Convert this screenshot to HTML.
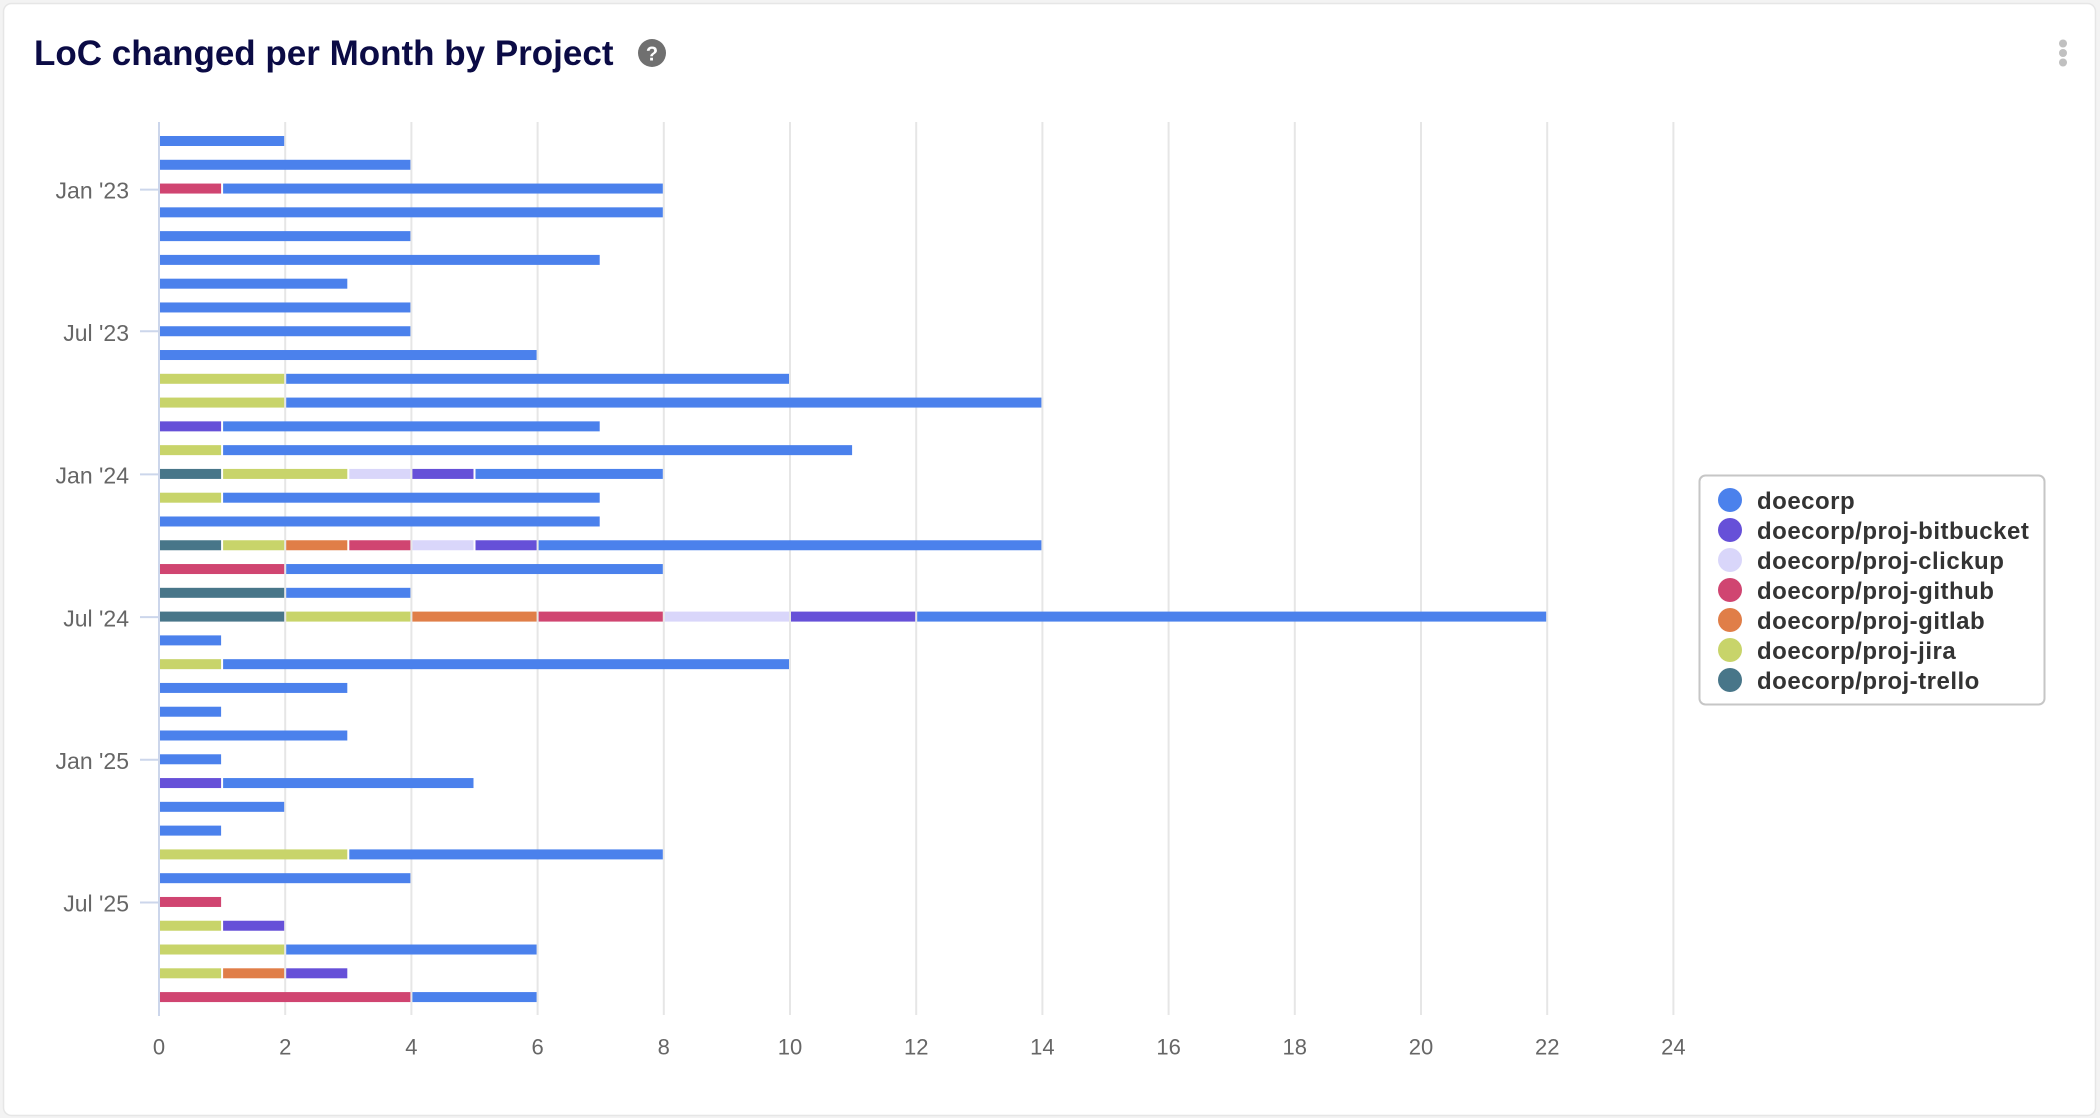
<!DOCTYPE html>
<html>
<head>
<meta charset="utf-8">
<style>
  html, body { margin: 0; padding: 0; background: #f3f3f3; }
  body { width: 2100px; height: 1118px; overflow: hidden; }
  svg { display: block; }
  .D { fill: #4b81ec; }
  .B { fill: #6650d8; }
  .C { fill: #d9d6fa; }
  .G { fill: #d04571; }
  .L { fill: #e07e48; }
  .J { fill: #c8d46a; }
  .T { fill: #487689; }
  .yl { font-family: "Liberation Sans", sans-serif; font-size: 23px; fill: #666666; text-anchor: end; }
  .xl { font-family: "Liberation Sans", sans-serif; font-size: 22px; fill: #666666; text-anchor: middle; }
  .lg { font-family: "Liberation Sans", sans-serif; font-size: 24px; font-weight: bold; fill: #333333; letter-spacing: 0.5px; }
</style>
</head>
<body>
<svg width="2100" height="1118" viewBox="0 0 2100 1118" xmlns="http://www.w3.org/2000/svg">
  <!-- card -->
  <rect x="3.5" y="3.5" width="2092" height="1112" rx="8" ry="8" fill="#ffffff" stroke="#e6e6e6" stroke-width="1.5"/>

  <!-- title -->
  <text x="34" y="65" font-family="Liberation Sans, sans-serif" font-size="35" font-weight="bold" fill="#0b0b45">LoC changed per Month by Project</text>
  <circle cx="652" cy="53" r="14" fill="#707070"/>
  <text x="652" y="60.5" font-family="Liberation Sans, sans-serif" font-size="20" font-weight="bold" fill="#ffffff" text-anchor="middle">?</text>

  <!-- kebab -->
  <circle cx="2063" cy="43.5" r="4" fill="#c0c0c0"/>
  <circle cx="2063" cy="53" r="4" fill="#c0c0c0"/>
  <circle cx="2063" cy="62.5" r="4" fill="#c0c0c0"/>

  <!-- gridlines -->
  <g stroke="#e6e6e6" stroke-width="2">
    <line x1="285.2" y1="122" x2="285.2" y2="1015"/>
    <line x1="411.4" y1="122" x2="411.4" y2="1015"/>
    <line x1="537.6" y1="122" x2="537.6" y2="1015"/>
    <line x1="663.8" y1="122" x2="663.8" y2="1015"/>
    <line x1="790" y1="122" x2="790" y2="1015"/>
    <line x1="916.2" y1="122" x2="916.2" y2="1015"/>
    <line x1="1042.4" y1="122" x2="1042.4" y2="1015"/>
    <line x1="1168.6" y1="122" x2="1168.6" y2="1015"/>
    <line x1="1294.8" y1="122" x2="1294.8" y2="1015"/>
    <line x1="1421" y1="122" x2="1421" y2="1015"/>
    <line x1="1547.2" y1="122" x2="1547.2" y2="1015"/>
    <line x1="1673.4" y1="122" x2="1673.4" y2="1015"/>
  </g>

  <!-- y axis line and ticks -->
  <g stroke="#ccd6eb" stroke-width="2">
    <line x1="159" y1="122" x2="159" y2="1016"/>
    <line x1="140" y1="189.6" x2="159" y2="189.6"/>
    <line x1="140" y1="331.2" x2="159" y2="331.2"/>
    <line x1="140" y1="474.4" x2="159" y2="474.4"/>
    <line x1="140" y1="617.1" x2="159" y2="617.1"/>
    <line x1="140" y1="759.8" x2="159" y2="759.8"/>
    <line x1="140" y1="902.5" x2="159" y2="902.5"/>
  </g>

  <!-- y labels -->
  <text class="yl" x="129" y="198.3">Jan '23</text>
  <text class="yl" x="129" y="340.9">Jul '23</text>
  <text class="yl" x="129" y="483.6">Jan '24</text>
  <text class="yl" x="129" y="626.3">Jul '24</text>
  <text class="yl" x="129" y="769">Jan '25</text>
  <text class="yl" x="129" y="911.7">Jul '25</text>

  <!-- x labels -->
  <text class="xl" x="159" y="1054.5">0</text>
  <text class="xl" x="285.2" y="1054.5">2</text>
  <text class="xl" x="411.4" y="1054.5">4</text>
  <text class="xl" x="537.6" y="1054.5">6</text>
  <text class="xl" x="663.8" y="1054.5">8</text>
  <text class="xl" x="790" y="1054.5">10</text>
  <text class="xl" x="916.2" y="1054.5">12</text>
  <text class="xl" x="1042.4" y="1054.5">14</text>
  <text class="xl" x="1168.6" y="1054.5">16</text>
  <text class="xl" x="1294.8" y="1054.5">18</text>
  <text class="xl" x="1421" y="1054.5">20</text>
  <text class="xl" x="1547.2" y="1054.5">22</text>
  <text class="xl" x="1673.4" y="1054.5">24</text>

  <!-- bars -->
  <g>
    <!-- i0 -->
    <rect class="D" x="160" y="136" width="124.2" height="10"/>
    <!-- i1 -->
    <rect class="D" x="160" y="159.78" width="250.4" height="10"/>
    <!-- i2 -->
    <rect class="G" x="160" y="183.56" width="61.1" height="10"/>
    <rect class="D" x="223.1" y="183.56" width="439.7" height="10"/>
    <!-- i3 -->
    <rect class="D" x="160" y="207.34" width="502.8" height="10"/>
    <!-- i4 -->
    <rect class="D" x="160" y="231.12" width="250.4" height="10"/>
    <!-- i5 -->
    <rect class="D" x="160" y="254.9" width="439.7" height="10"/>
    <!-- i6 -->
    <rect class="D" x="160" y="278.68" width="187.3" height="10"/>
    <!-- i7 -->
    <rect class="D" x="160" y="302.46" width="250.4" height="10"/>
    <!-- i8 -->
    <rect class="D" x="160" y="326.24" width="250.4" height="10"/>
    <!-- i9 -->
    <rect class="D" x="160" y="350.02" width="376.6" height="10"/>
    <!-- i10 -->
    <rect class="J" x="160" y="373.8" width="124.2" height="10"/>
    <rect class="D" x="286.2" y="373.8" width="502.8" height="10"/>
    <!-- i11 -->
    <rect class="J" x="160" y="397.58" width="124.2" height="10"/>
    <rect class="D" x="286.2" y="397.58" width="755.2" height="10"/>
    <!-- i12 -->
    <rect class="B" x="160" y="421.36" width="61.1" height="10"/>
    <rect class="D" x="223.1" y="421.36" width="376.6" height="10"/>
    <!-- i13 -->
    <rect class="J" x="160" y="445.14" width="61.1" height="10"/>
    <rect class="D" x="223.1" y="445.14" width="629" height="10"/>
    <!-- i14 -->
    <rect class="T" x="160" y="468.92" width="61.1" height="10"/>
    <rect class="J" x="223.1" y="468.92" width="124.2" height="10"/>
    <rect class="C" x="349.3" y="468.92" width="61.1" height="10"/>
    <rect class="B" x="412.4" y="468.92" width="61.1" height="10"/>
    <rect class="D" x="475.5" y="468.92" width="187.3" height="10"/>
    <!-- i15 -->
    <rect class="J" x="160" y="492.7" width="61.1" height="10"/>
    <rect class="D" x="223.1" y="492.7" width="376.6" height="10"/>
    <!-- i16 -->
    <rect class="D" x="160" y="516.48" width="439.7" height="10"/>
    <!-- i17 -->
    <rect class="T" x="160" y="540.26" width="61.1" height="10"/>
    <rect class="J" x="223.1" y="540.26" width="61.1" height="10"/>
    <rect class="L" x="286.2" y="540.26" width="61.1" height="10"/>
    <rect class="G" x="349.3" y="540.26" width="61.1" height="10"/>
    <rect class="C" x="412.4" y="540.26" width="61.1" height="10"/>
    <rect class="B" x="475.5" y="540.26" width="61.1" height="10"/>
    <rect class="D" x="538.6" y="540.26" width="502.8" height="10"/>
    <!-- i18 -->
    <rect class="G" x="160" y="564.04" width="124.2" height="10"/>
    <rect class="D" x="286.2" y="564.04" width="376.6" height="10"/>
    <!-- i19 -->
    <rect class="T" x="160" y="587.82" width="124.2" height="10"/>
    <rect class="D" x="286.2" y="587.82" width="124.2" height="10"/>
    <!-- i20 -->
    <rect class="T" x="160" y="611.6" width="124.2" height="10"/>
    <rect class="J" x="286.2" y="611.6" width="124.2" height="10"/>
    <rect class="L" x="412.4" y="611.6" width="124.2" height="10"/>
    <rect class="G" x="538.6" y="611.6" width="124.2" height="10"/>
    <rect class="C" x="664.8" y="611.6" width="124.2" height="10"/>
    <rect class="B" x="791" y="611.6" width="124.2" height="10"/>
    <rect class="D" x="917.2" y="611.6" width="629" height="10"/>
    <!-- i21 -->
    <rect class="D" x="160" y="635.38" width="61.1" height="10"/>
    <!-- i22 -->
    <rect class="J" x="160" y="659.16" width="61.1" height="10"/>
    <rect class="D" x="223.1" y="659.16" width="565.9" height="10"/>
    <!-- i23 -->
    <rect class="D" x="160" y="682.94" width="187.3" height="10"/>
    <!-- i24 -->
    <rect class="D" x="160" y="706.72" width="61.1" height="10"/>
    <!-- i25 -->
    <rect class="D" x="160" y="730.5" width="187.3" height="10"/>
    <!-- i26 -->
    <rect class="D" x="160" y="754.28" width="61.1" height="10"/>
    <!-- i27 -->
    <rect class="B" x="160" y="778.06" width="61.1" height="10"/>
    <rect class="D" x="223.1" y="778.06" width="250.4" height="10"/>
    <!-- i28 -->
    <rect class="D" x="160" y="801.84" width="124.2" height="10"/>
    <!-- i29 -->
    <rect class="D" x="160" y="825.62" width="61.1" height="10"/>
    <!-- i30 -->
    <rect class="J" x="160" y="849.4" width="187.3" height="10"/>
    <rect class="D" x="349.3" y="849.4" width="313.5" height="10"/>
    <!-- i31 -->
    <rect class="D" x="160" y="873.18" width="250.4" height="10"/>
    <!-- i32 -->
    <rect class="G" x="160" y="896.96" width="61.1" height="10"/>
    <!-- i33 -->
    <rect class="J" x="160" y="920.74" width="61.1" height="10"/>
    <rect class="B" x="223.1" y="920.74" width="61.1" height="10"/>
    <!-- i34 -->
    <rect class="J" x="160" y="944.52" width="124.2" height="10"/>
    <rect class="D" x="286.2" y="944.52" width="250.4" height="10"/>
    <!-- i35 -->
    <rect class="J" x="160" y="968.3" width="61.1" height="10"/>
    <rect class="L" x="223.1" y="968.3" width="61.1" height="10"/>
    <rect class="B" x="286.2" y="968.3" width="61.1" height="10"/>
    <!-- i36 -->
    <rect class="G" x="160" y="992.08" width="250.4" height="10"/>
    <rect class="D" x="412.4" y="992.08" width="124.2" height="10"/>
  </g>

  <!-- legend -->
  <rect x="1699.5" y="475.5" width="345" height="229" rx="6" ry="6" fill="#ffffff" stroke="#c6c6c6" stroke-width="2"/>
  <circle class="D" cx="1730" cy="500" r="12"/>
  <circle class="B" cx="1730" cy="530" r="12"/>
  <circle class="C" cx="1730" cy="560" r="12"/>
  <circle class="G" cx="1730" cy="590" r="12"/>
  <circle class="L" cx="1730" cy="620" r="12"/>
  <circle class="J" cx="1730" cy="650" r="12"/>
  <circle class="T" cx="1730" cy="680" r="12"/>
  <text class="lg" x="1757" y="509">doecorp</text>
  <text class="lg" x="1757" y="539">doecorp/proj-bitbucket</text>
  <text class="lg" x="1757" y="569">doecorp/proj-clickup</text>
  <text class="lg" x="1757" y="599">doecorp/proj-github</text>
  <text class="lg" x="1757" y="629">doecorp/proj-gitlab</text>
  <text class="lg" x="1757" y="659">doecorp/proj-jira</text>
  <text class="lg" x="1757" y="689">doecorp/proj-trello</text>
</svg>
</body>
</html>
